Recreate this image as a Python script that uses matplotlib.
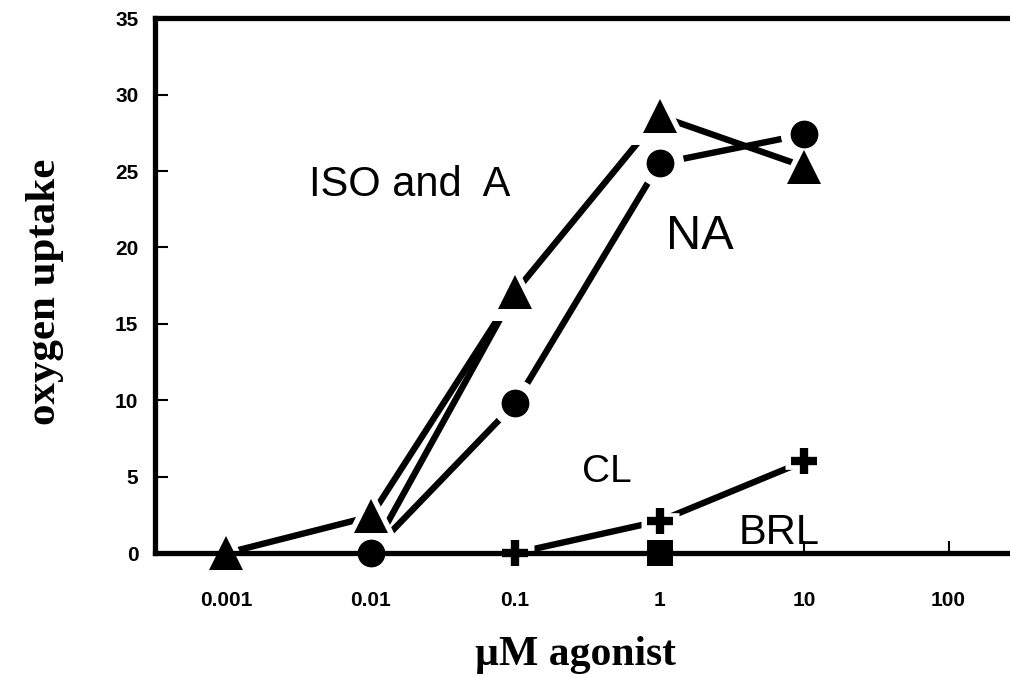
import matplotlib
matplotlib.use("Agg")
from matplotlib import pyplot as plt

# concentrations (uM) and oxygen uptake
iso_x = [0.001, 0.01, 0.1, 1, 10]
iso_y = [0, 2.4, 17.1, 28.6, 25.3]
a_x = [0.01, 0.1]
a_y = [0, 17.1]
na_x = [0.01, 0.1, 1, 10]
na_y = [0, 9.8, 25.5, 27.4]
cl_x = [0.1, 1, 10]
cl_y = [0, 2.1, 6.0]
brl_x = [1]
brl_y = [0]

xticks = [0.001, 0.01, 0.1, 1, 10, 100]
xticklabels = ['0.001', '0.01', '0.1', '1', '10', '100']
yticks = [0, 5, 10, 15, 20, 25, 30, 35]

fig = plt.figure(figsize=(10.1, 6.77), dpi=100)
ax = fig.add_axes([0.1535, 0.183, 0.87, 0.79])
ax.set_xscale('log')
ax.set_xlim(10 ** -3.493, 10 ** 2.59)
ax.set_ylim(0, 35)

lw = 4.6
# lines
for xs, ys in [(iso_x, iso_y), (a_x, a_y), (na_x, na_y), (cl_x, cl_y)]:
    ln, = ax.plot(xs, ys, color='black', lw=lw, solid_capstyle='butt', clip_on=False)
    ln.set_zorder(1)


def markers(xs, ys, m, ms, mew=0, halo=14):
    # white halo gives the gap between line and marker
    h, = ax.plot(xs, ys, ls='none', marker=m, ms=ms + halo, mfc='white', mec='white',
                 mew=mew + 6 if mew else 0, clip_on=False)
    h.set_zorder(3)
    k, = ax.plot(xs, ys, ls='none', marker=m, ms=ms, mfc='black', mec='black',
                 mew=mew, clip_on=False)
    k.set_zorder(4)


markers(iso_x, iso_y, '^', 24, halo=18)
markers(na_x, na_y, 'o', 20)
markers(cl_x, cl_y, '+', 19, mew=6, halo=8)
markers(brl_x, brl_y, 's', 19)

# labels inside
tf = 'Liberation Sans'
ax.text(0.0187, 24.1, 'ISO and  A', fontsize=30, family=tf, ha='center', va='center')
ax.text(1.9, 20.7, 'NA', fontsize=35, family=tf, ha='center', va='center')
ax.text(0.433, 5.3, 'CL', fontsize=28, family=tf, ha='center', va='center')
ax.text(6.68, 1.3, 'BRL', fontsize=30, family=tf, ha='center', va='center')

for s in ['left', 'bottom', 'top']:
    ax.spines[s].set_linewidth(3.8)
    ax.spines[s].set_zorder(5)
ax.spines['right'].set_visible(False)

ax.set_xticks(xticks)
ax.set_xticklabels(xticklabels)
ax.minorticks_off()
ax.set_yticks(yticks)
ax.tick_params(axis='both', direction='in', length=9, width=1.5, labelsize=15)
ax.tick_params(axis='x', pad=27)
ax.tick_params(axis='y', pad=12)
for lab in ax.get_xticklabels() + ax.get_yticklabels():
    lab.set_family(tf)
    lab.set_fontweight('bold')

fig.text(0.57, 0.033, 'µM agonist', fontsize=30, family='Liberation Serif',
         fontweight='bold', ha='center', va='center')
fig.text(0.045, 0.569, 'oxygen uptake', fontsize=31, family='Liberation Serif',
         fontweight='bold', ha='center', va='center', rotation=90)

fig.savefig('out.png', dpi=100)
